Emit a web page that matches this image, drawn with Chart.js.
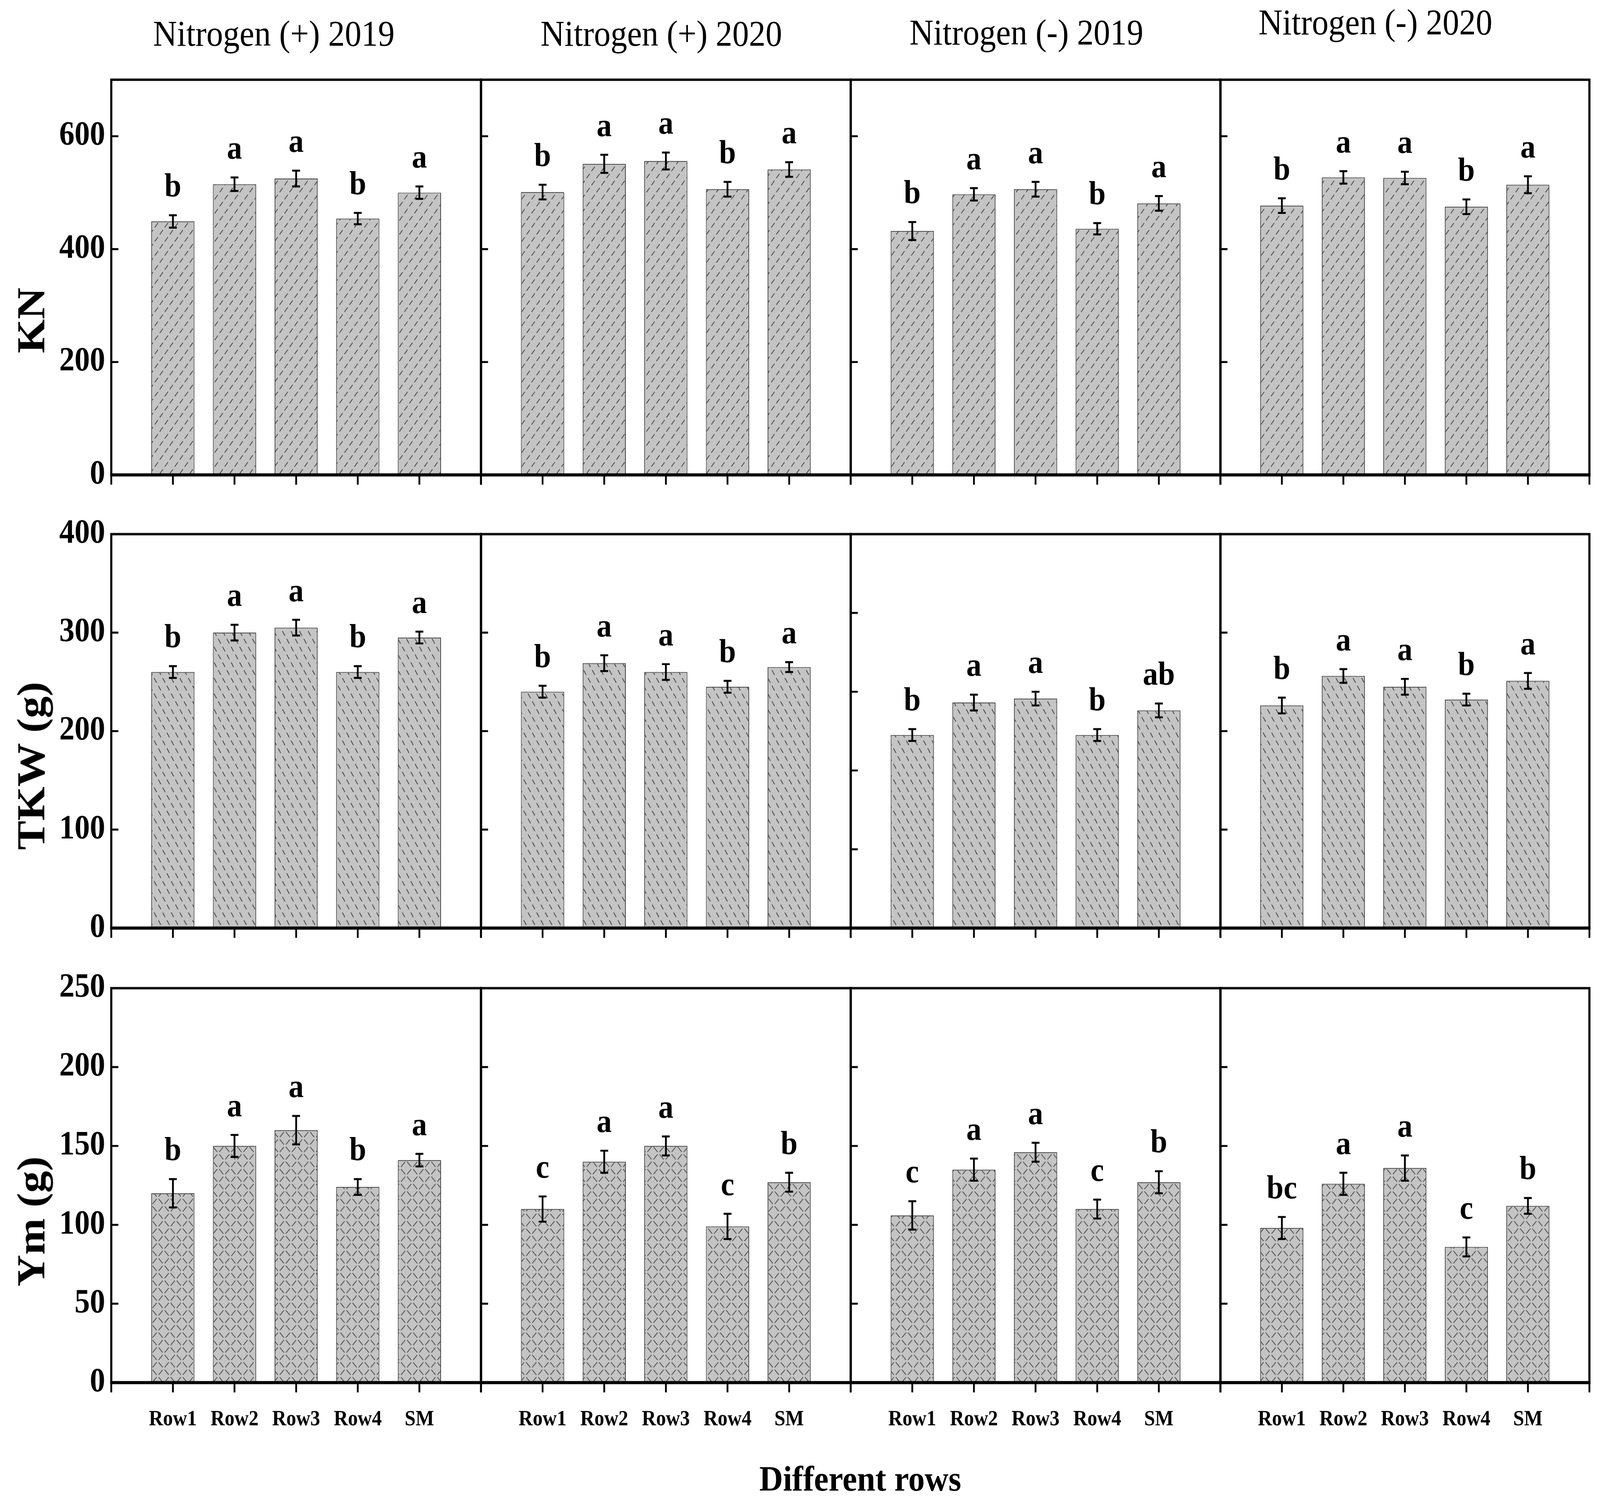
<!DOCTYPE html>
<html>
<head>
<meta charset="utf-8">
<script src="https://cdn.jsdelivr.net/npm/chart.js"></script>
<style>
html, body { margin: 0; background: #fff; overflow: hidden; }
#page { position: absolute; left: 0; top: 0; width: 4488px; height: 3839px; transform-origin: 0 0; font-family: "Liberation Serif", "Times New Roman", serif; }
canvas { position: absolute; }
.txt { position: absolute; white-space: nowrap; line-height: 1; color: #000; }
</style>
</head>
<body>
<div id="page"></div>
<script>
// categories and panel headings
var categories = ['Row1', 'Row2', 'Row3', 'Row4', 'SM'];
var panelTitles = ['Nitrogen (+) 2019', 'Nitrogen (+) 2020', 'Nitrogen (-) 2019', 'Nitrogen (-) 2020'];
var rowTitles = ['KN', 'TKW (g)', 'Ym (g)'];
var xTitle = 'Different rows';

// KN (one row of values per panel)
var kn_mean = [
    [449, 515, 525, 454, 500],
    [501, 551, 556, 506, 541],
    [432, 497, 506, 436, 481],
    [477, 527, 526, 475, 514]
];
var kn_err = [
    [11, 12, 14, 10, 11],
    [13, 16, 15, 13, 13],
    [16, 11, 13, 10, 13],
    [13, 11, 11, 13, 15]
];
var kn_letters = [
    ['b', 'a', 'a', 'b', 'a'],
    ['b', 'a', 'a', 'b', 'a'],
    ['b', 'a', 'a', 'b', 'a'],
    ['b', 'a', 'a', 'b', 'a']
];

// TKW
var tkw_mean = [
    [260, 300, 305, 260, 295],
    [240, 269, 260, 245, 265],
    [196, 229, 233, 196, 221],
    [226, 256, 245, 232, 251]
];
var tkw_err = [
    [6, 8, 8, 6, 6],
    [6, 8, 8, 6, 5],
    [6, 8, 7, 6, 7],
    [8, 7, 8, 6, 8]
];
var tkw_letters = [
    ['b', 'a', 'a', 'b', 'a'],
    ['b', 'a', 'a', 'b', 'a'],
    ['b', 'a', 'a', 'b', 'ab'],
    ['b', 'a', 'a', 'b', 'a']
];

// Ym
var ym_mean = [
    [120, 150, 160, 124, 141],
    [110, 140, 150, 99, 127],
    [106, 135, 146, 110, 127],
    [98, 126, 136, 86, 112]
];
var ym_err = [
    [9, 7, 9, 5, 4],
    [8, 7, 6, 8, 6],
    [9, 7, 6, 6, 7],
    [7, 7, 8, 6, 5]
];
var ym_letters = [
    ['b', 'a', 'a', 'b', 'a'],
    ['c', 'a', 'a', 'c', 'b'],
    ['c', 'a', 'a', 'c', 'b'],
    ['bc', 'a', 'a', 'c', 'b']
];

// y axis ranges and tick steps (panel 3 of TKW has its own step)
var yMax = [700, 400, 250];
var knSteps = [200, 200, 200, 200];
var tkwSteps = [100, 100, 80, 100];
var ymSteps = [50, 50, 50, 50];

var measures = [
    { mean: kn_mean, err: kn_err, letters: kn_letters, steps: knSteps, hatch: 'slash' },
    { mean: tkw_mean, err: tkw_err, letters: tkw_letters, steps: tkwSteps, hatch: 'back' },
    { mean: ym_mean, err: ym_err, letters: ym_letters, steps: ymSteps, hatch: 'cross' }
];

// page layout (in 4488 x 3839 units, the page is stretched to fill the window)
var colX = [312, 1349, 2386, 3423, 4458];
var rowY = [[204, 1215], [1367, 2375], [2529, 3538]];
var serif = '"Liberation Serif", "Times New Roman", serif';
var barGray = '#c4c4c4';

var page = document.getElementById('page');
var kx = window.innerWidth / 4488;
var ky = window.innerHeight / 3839;
page.style.transform = 'scale(' + kx + ',' + ky + ')';
// render the canvases a bit finer when the page is shrunk
var dpr = Math.max(1, 1 / Math.min(kx, ky));

function makeHatch(kind) {
    var c = document.createElement('canvas');
    var w, h;
    if (kind == 'slash') { w = 28; h = 36; }
    else if (kind == 'back') { w = 24; h = 40; }
    else { w = 34; h = 38; }
    c.width = w; c.height = h;
    var g = c.getContext('2d');
    g.fillStyle = barGray;
    g.fillRect(0, 0, w, h);
    g.strokeStyle = '#262626';
    g.lineWidth = 1.7;
    var len = Math.sqrt(w * w + h * h);
    for (var i = -1; i <= 1; i++) {
        if (kind == 'slash' || kind == 'cross') {
            g.setLineDash(kind == 'slash' ? [len * 0.32, len * 0.18] : [len * 0.34, len * 0.16]);
            g.lineDashOffset = kind == 'cross' ? -len * 0.08 : 0;
            g.beginPath();
            g.moveTo(i * w, h);
            g.lineTo(i * w + w, 0);
            g.stroke();
        }
        if (kind == 'back' || kind == 'cross') {
            g.setLineDash(kind == 'back' ? [len * 0.3, len * 0.2] : [len * 0.34, len * 0.16]);
            g.lineDashOffset = kind == 'cross' ? -len * 0.08 : 0;
            g.beginPath();
            g.moveTo(i * w, 0);
            g.lineTo(i * w + w, h);
            g.stroke();
        }
    }
    return g.createPattern(c, 'repeat');
}

function addText(str, x, y, css) {
    var d = document.createElement('div');
    d.className = 'txt';
    d.textContent = str;
    d.style.left = x + 'px';
    d.style.top = y + 'px';
    d.style.cssText += css;
    page.appendChild(d);
}

// draws error bars, letters, the panel frame and the tick marks
function decoPlugin(means, errs, letters) {
    return {
        id: 'panelDeco',
        afterDatasetsDraw: function (chart) {
            var ctx = chart.ctx;
            var a = chart.chartArea;
            var xs = chart.scales.x;
            var ys = chart.scales.y;
            var meta = chart.getDatasetMeta(0);
            ctx.save();
            ctx.strokeStyle = '#000';
            ctx.fillStyle = '#000';
            ctx.font = 'bold 85px ' + serif;
            ctx.textAlign = 'center';
            ctx.textBaseline = 'alphabetic';
            for (var i = 0; i < means.length; i++) {
                var x = meta.data[i + 1].x;
                var yt = ys.getPixelForValue(means[i] + errs[i]);
                var yb = ys.getPixelForValue(means[i] - errs[i]);
                ctx.lineWidth = 5;
                ctx.beginPath();
                ctx.moveTo(x, yt); ctx.lineTo(x, yb);
                ctx.moveTo(x - 11, yt); ctx.lineTo(x + 11, yt);
                ctx.moveTo(x - 11, yb); ctx.lineTo(x + 11, yb);
                ctx.stroke();
                ctx.fillText(letters[i], x, yt - 48);
            }
            // frame
            ctx.lineWidth = 6;
            ctx.strokeRect(a.left, a.top, a.right - a.left, a.bottom - a.top);
            ctx.lineWidth = 8;
            ctx.beginPath();
            ctx.moveTo(a.left - 3, a.bottom); ctx.lineTo(a.right + 3, a.bottom);
            ctx.stroke();
            // ticks: y inward, x outward
            ctx.lineWidth = 5;
            ctx.beginPath();
            ys.ticks.forEach(function (t) {
                var y = ys.getPixelForValue(t.value);
                ctx.moveTo(a.left, y); ctx.lineTo(a.left + 20, y);
            });
            for (var j = 0; j < xs.ticks.length; j++) {
                var px = xs.getPixelForTick(j);
                ctx.moveTo(px, a.bottom); ctx.lineTo(px, a.bottom + 25);
            }
            ctx.stroke();
            ctx.restore();
        }
    };
}

function makePanel(r, c) {
    var m = measures[r];
    var step = m.steps[c];
    var padL = c == 0 ? colX[0] : 12;
    var padR = 12, padT = 72;
    var padB = r == 2 ? 170 : 72;
    var w = colX[c + 1] - colX[c];
    var h = rowY[r][1] - rowY[r][0];
    var cv = document.createElement('canvas');
    cv.width = w + padL + padR;
    cv.height = h + padT + padB;
    cv.style.left = (colX[c] - padL) + 'px';
    cv.style.top = (rowY[r][0] - padT) + 'px';
    cv.style.width = cv.width + 'px';
    cv.style.height = cv.height + 'px';
    page.appendChild(cv);

    // empty slots at both ends so the five bars sit at 1/6 .. 5/6 of the panel
    var labels = [''].concat(categories, ['']);
    var vals = [null].concat(m.mean[c], [null]);

    new Chart(cv.getContext('2d'), {
        type: 'bar',
        data: {
            labels: labels,
            datasets: [{
                data: vals,
                backgroundColor: makeHatch(m.hatch),
                borderColor: '#3a3a3a',
                borderWidth: 2,
                categoryPercentage: 1,
                barPercentage: 0.7
            }]
        },
        options: {
            responsive: false,
            animation: false,
            devicePixelRatio: dpr,
            layout: { padding: { top: padT, right: padR, left: 0, bottom: 0 } },
            plugins: { legend: { display: false }, tooltip: { enabled: false } },
            scales: {
                x: {
                    type: 'category',
                    offset: false,
                    // invisible grid, its tick length only pushes the labels down
                    grid: { display: true, drawOnChartArea: false, color: 'rgba(0,0,0,0)', tickLength: 62 },
                    border: { display: false },
                    ticks: {
                        display: r == 2,
                        autoSkip: false,
                        maxRotation: 0,
                        padding: 0,
                        color: '#000',
                        font: { family: serif, size: 55, weight: 'bold' }
                    },
                    afterFit: function (s) { s.height = padB; }
                },
                y: {
                    min: 0,
                    max: yMax[r],
                    grid: { display: true, drawOnChartArea: false, color: 'rgba(0,0,0,0)', tickLength: 17 },
                    border: { display: false },
                    afterBuildTicks: function (s) {
                        s.ticks = s.ticks.filter(function (t) {
                            return Math.abs(t.value / step - Math.round(t.value / step)) < 1e-6;
                        });
                    },
                    ticks: {
                        display: c == 0,
                        stepSize: step,
                        padding: 0,
                        color: '#000',
                        font: { family: serif, size: 86, weight: 'bold' }
                    },
                    afterFit: function (s) { s.width = padL; }
                }
            }
        },
        plugins: [decoPlugin(m.mean[c], m.err[c], m.letters[c])]
    });
}

for (var r = 0; r < 3; r++) {
    for (var c = 0; c < 4; c++) {
        makePanel(r, c);
    }
}

// panel headings
var titleX = [768, 1855, 2879, 3858];
var titleTop = [39, 39, 36, 10];
for (var i = 0; i < panelTitles.length; i++) {
    addText(panelTitles[i], titleX[i], titleTop[i], 'font-size:93px;transform:translateX(-50%);');
}

// y axis titles
var yTitleY = [820, 1960, 3126];
for (var j = 0; j < rowTitles.length; j++) {
    addText(rowTitles[j], 87, yTitleY[j], 'font-size:112px;font-weight:bold;transform:translate(-50%,-50%) rotate(-90deg);');
}

addText(xTitle, 2413, 3738, 'font-size:92px;font-weight:bold;transform:translateX(-50%);');
</script>
</body>
</html>
